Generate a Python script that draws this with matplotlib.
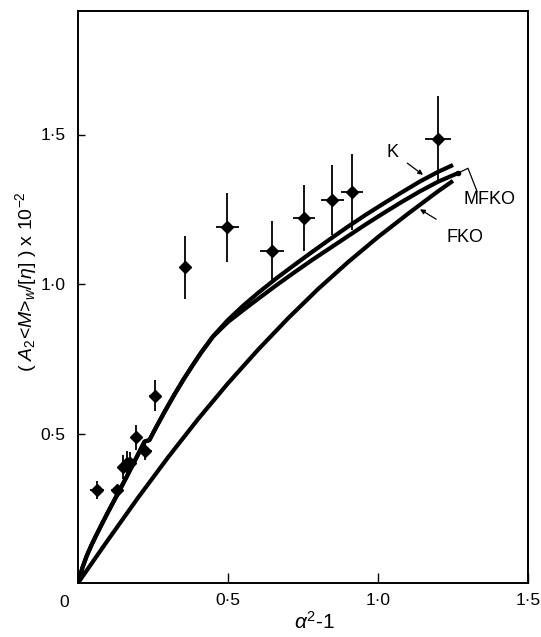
import matplotlib
matplotlib.use("Agg")
import matplotlib.pyplot as plt

plt.rcParams['font.family'] = ['Liberation Sans', 'DejaVu Sans']
plt.rcParams['mathtext.fontset'] = 'custom'
plt.rcParams['mathtext.rm'] = 'Liberation Sans'
plt.rcParams['mathtext.it'] = 'Liberation Sans:italic'

# experimental points
pts_x = [0.063, 0.130, 0.150, 0.162, 0.172, 0.194, 0.223, 0.256, 0.357, 0.498, 0.647, 0.753, 0.848, 0.913, 1.200]
pts_y = [0.310, 0.312, 0.388, 0.400, 0.402, 0.487, 0.443, 0.627, 1.056, 1.189, 1.111, 1.220, 1.282, 1.308, 1.485]
err_y = [0.030, 0.015, 0.040, 0.040, 0.035, 0.042, 0.030, 0.053, 0.105, 0.117, 0.100, 0.110, 0.117, 0.128, 0.143]
err_x = [0.022, 0.020, 0.012, 0.012, 0.012, 0.015, 0.024, 0.020, 0.000, 0.037, 0.040, 0.038, 0.039, 0.036, 0.042]

# theoretical curves
k_x = [0, 0.015, 0.03, 0.045, 0.06, 0.08, 0.10, 0.13, 0.16, 0.19, 0.222, 0.238, 0.26, 0.29, 0.32, 0.35,
       0.38, 0.41, 0.45, 0.50, 0.55, 0.60, 0.66, 0.72, 0.78, 0.84, 0.90, 0.96, 1.02, 1.08, 1.14, 1.20, 1.25]
k_y = [0, 0.052, 0.093, 0.127, 0.158, 0.198, 0.237, 0.294, 0.351, 0.41, 0.473, 0.478, 0.52, 0.575, 0.628, 0.678,
       0.725, 0.77, 0.825, 0.88, 0.927, 0.97, 1.018, 1.063, 1.107, 1.15, 1.192, 1.232, 1.27, 1.307, 1.343, 1.375, 1.398]
mfko_x = [0, 0.015, 0.03, 0.045, 0.06, 0.08, 0.10, 0.13, 0.16, 0.19, 0.222, 0.238, 0.26, 0.29, 0.32, 0.35,
          0.38, 0.41, 0.45, 0.50, 0.55, 0.60, 0.66, 0.72, 0.78, 0.84, 0.90, 0.96, 1.02, 1.08, 1.14, 1.20, 1.267]
mfko_y = [0, 0.052, 0.093, 0.127, 0.158, 0.198, 0.237, 0.294, 0.351, 0.41, 0.473, 0.478, 0.52, 0.575, 0.628, 0.678,
          0.725, 0.77, 0.824, 0.873, 0.912, 0.95, 0.995, 1.038, 1.08, 1.12, 1.16, 1.20, 1.238, 1.275, 1.31, 1.342, 1.371]
fko_x = [0, 0.10, 0.20, 0.30, 0.40, 0.50, 0.60, 0.70, 0.80, 0.90, 1.00, 1.10, 1.20, 1.25]
fko_y = [0, 0.144, 0.285, 0.42, 0.548, 0.668, 0.78, 0.885, 0.983, 1.073, 1.157, 1.235, 1.31, 1.345]

xticks = [0.5, 1.0, 1.5]
xtick_labels = ['0·5', '1·0', '1·5']
yticks = [0.5, 1.0, 1.5]
ytick_labels = ['0·5', '1·0', '1·5']

fig = plt.figure(figsize=(5.41, 6.37), dpi=100)
ax = fig.add_axes([78/541, 1-583/637, 450/541, 572/637])
ax.set_xlim(0, 1.5)
ax.set_ylim(0, 572/299)

lw = 3.0
for cx, cy in ((k_x, k_y), (mfko_x, mfko_y), (fko_x, fko_y)):
    ax.plot(cx, cy, color='black', lw=lw, solid_capstyle='butt', solid_joinstyle='round')

ax.errorbar(pts_x, pts_y, yerr=err_y, xerr=err_x, fmt='D', color='black',
            ms=6, elinewidth=1.3, capsize=0, zorder=5)

# annotations
ax.annotate('K', xy=(1.15, 1.365), xytext=(1.05, 1.44), fontsize=13,
            ha='center', va='center',
            arrowprops=dict(arrowstyle='-|>', color='black', lw=0.9, mutation_scale=7,
                            shrinkA=5, shrinkB=0))
ax.plot([mfko_x[-1], 1.30, 1.33], [mfko_y[-1], 1.387, 1.31], color='black', lw=0.9)
ax.plot([mfko_x[-1]], [mfko_y[-1]], 'o', color='black', ms=3)
ax.text(1.373, 1.284, 'MFKO', fontsize=13, ha='center', va='center')
ax.annotate('FKO', xy=(1.14, 1.25), xytext=(1.29, 1.157), fontsize=13,
            ha='center', va='center',
            arrowprops=dict(arrowstyle='-|>', color='black', lw=0.9, mutation_scale=7,
                            shrinkA=9, shrinkB=0))

ax.set_xticks(xticks)
ax.set_xticklabels(xtick_labels)
ax.set_yticks(yticks)
ax.set_yticklabels(ytick_labels)
ax.tick_params(axis='x', direction='in', length=7, width=1.0, labelsize=12.5, pad=7)
ax.tick_params(axis='y', direction='in', length=5, width=1.0, labelsize=12.5, pad=9)
for s in ax.spines.values():
    s.set_linewidth(1.4)

ax.text(-0.045, -0.04, '0', transform=ax.transData, fontsize=12.5,
        ha='center', va='top')

fig.text(315/541, 1-622/637, r'$\alpha^2$-1', fontsize=15, ha='center', va='center')
fig.text(26/541, 1-282/637, r'( $A_2$<$M$>$_w$/[$\eta$] ) x 10$^{-2}$', fontsize=14,
         rotation=90, ha='center', va='center')

fig.savefig('out.png', dpi=100)
